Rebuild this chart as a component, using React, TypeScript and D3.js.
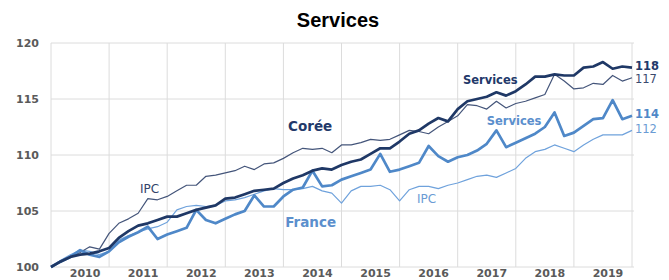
import React from 'react';
import * as d3 from 'd3';

// bi-monthly points, Jan 2010 .. Jan 2020 (index / 6 = years since 2010)
const stepsPerYear = 6;
const years = [2010, 2011, 2012, 2013, 2014, 2015, 2016, 2017, 2018, 2019];
const yTicks = [100, 105, 110, 115, 120];

const coreeServices = [
  100.0, 100.5, 100.9, 101.1, 101.2, 101.4, 101.7, 102.6, 103.2, 103.7,
  103.9, 104.2, 104.5, 104.5, 104.8, 105.1, 105.3, 105.5, 106.1, 106.2,
  106.5, 106.8, 106.9, 107.0, 107.5, 107.9, 108.2, 108.6, 108.8, 108.7,
  109.1, 109.4, 109.6, 110.1, 110.6, 110.6, 111.2, 111.9, 112.2, 112.8,
  113.3, 113.0, 114.1, 114.8, 115.0, 115.2, 115.6, 115.3, 115.7, 116.3,
  117.0, 117.0, 117.2, 117.1, 117.1, 117.8, 117.9, 118.3, 117.7, 117.9,
  117.8,
];
const coreeIPC = [
  100.0, 100.4, 100.9, 101.3, 101.8, 101.6, 103.0, 103.9, 104.3, 104.8,
  106.1, 106.0, 106.3, 106.8, 107.3, 107.3, 108.1, 108.2, 108.4, 108.6,
  109.0, 108.7, 109.2, 109.3, 109.7, 110.2, 110.6, 110.5, 110.6, 110.2,
  110.9, 110.9, 111.1, 111.4, 111.3, 111.4, 111.8, 112.2, 112.1, 111.9,
  112.5, 113.0, 113.5, 114.5, 114.4, 114.1, 114.8, 114.2, 114.6, 114.8,
  115.1, 115.4, 117.2, 116.6, 115.9, 116.0, 116.4, 116.3, 117.1, 116.6,
  116.9,
];
const franceServices = [
  100.0, 100.5, 100.9, 101.5, 101.1, 100.9, 101.4, 102.2, 102.7, 103.1,
  103.6, 102.5, 102.9, 103.2, 103.5, 105.1, 104.2, 103.9, 104.3, 104.7,
  105.0, 106.4, 105.4, 105.4, 106.3, 106.9, 107.1, 108.6, 107.2, 107.3,
  107.8, 108.1, 108.4, 108.7, 110.1, 108.5, 108.7, 109.0, 109.3, 110.8,
  109.9, 109.4, 109.8, 110.0, 110.4, 111.0, 112.2, 110.7, 111.1, 111.5,
  111.9, 112.5, 113.8, 111.7, 112.0, 112.6, 113.2, 113.3, 114.9, 113.2,
  113.5,
];
const franceIPC = [
  100.0, 100.6, 101.1, 101.5, 101.4, 101.1, 101.4, 102.4, 102.8, 103.1,
  103.4, 103.6, 104.0, 105.1, 105.4, 105.5, 105.4, 105.5, 105.9, 106.0,
  106.2, 106.5, 106.8, 107.0, 106.9, 106.9, 107.0, 107.2, 106.8, 106.6,
  105.7, 106.8, 107.2, 107.2, 107.3, 106.9, 105.9, 106.9, 107.2, 107.2,
  107.0, 107.3, 107.5, 107.8, 108.1, 108.2, 108.0, 108.4, 108.8, 109.7,
  110.3, 110.5, 110.9, 110.6, 110.3, 110.9, 111.4, 111.8, 111.8, 111.8,
  112.2,
];

// series styles
const series = [
  { values: franceIPC, color: '#6fa2dc', width: 1.2 },
  { values: coreeIPC, color: '#44557a', width: 1.2 },
  { values: franceServices, color: '#4f88c8', width: 2.7 },
  { values: coreeServices, color: '#1f3866', width: 2.7 },
];

// annotations in data units: t = years since 2010, v = index
const labels = [
  { text: 'Corée', t: 4.08, v: 112.14, size: 13.5, bold: true, color: '#22396a' },
  { text: 'IPC', t: 1.53, v: 106.6, size: 12, bold: false, color: '#33436a' },
  { text: 'France', t: 4.03, v: 103.57, size: 13.5, bold: true, color: '#5b8fcd' },
  { text: 'IPC', t: 6.3, v: 105.71, size: 12, bold: false, color: '#6a9bd4' },
  { text: 'Services', t: 7.09, v: 116.34, size: 11.5, bold: true, color: '#22396a' },
  { text: 'Services', t: 7.5, v: 112.68, size: 11.5, bold: true, color: '#5b8fcd' },
  { text: '118', t: 10.05, v: 117.59, size: 11.5, bold: true, color: '#22396a' },
  { text: '117', t: 10.05, v: 116.43, size: 11.5, bold: false, color: '#3a4a6e' },
  { text: '114', t: 10.05, v: 113.3, size: 11.5, bold: true, color: '#4f88c8' },
  { text: '112', t: 10.05, v: 111.96, size: 11.5, bold: false, color: '#6a9bd4' },
];

const W = 669;
const H = 280;
const margin = { top: 43, right: 37, bottom: 13, left: 51 };

export default function App() {
  const x = d3.scaleLinear().domain([0, years.length]).range([margin.left, W - margin.right]);
  const y = d3.scaleLinear().domain([100, 120]).range([H - margin.bottom, margin.top]);

  const line = d3
    .line<number>()
    .x((_, i) => x(i / stepsPerYear))
    .y((d) => y(d));

  const font = "'DejaVu Sans', Verdana, sans-serif";

  return (
    <svg
      width={W}
      height={H}
      style={{ position: 'absolute', left: 0, top: 0, background: '#fff' }}
    >
      <text
        x={338}
        y={27}
        textAnchor="middle"
        fontFamily="'Liberation Sans', Arial, sans-serif"
        fontWeight="bold"
        fontSize={20}
      >
        Services
      </text>

      {/* grid */}
      {yTicks.map((t) => (
        <line key={'h' + t} x1={x(0)} x2={x(years.length) + 2} y1={y(t)} y2={y(t)} stroke="#dcdcdc" strokeWidth={1} />
      ))}
      {d3.range(years.length + 1).map((i) => (
        <line key={'v' + i} x1={x(i)} x2={x(i)} y1={y(120)} y2={y(100)} stroke="#dcdcdc" strokeWidth={1} />
      ))}

      {/* y tick labels */}
      {yTicks.map((t) => (
        <text
          key={'yt' + t}
          x={39}
          y={y(t)}
          dy="0.36em"
          textAnchor="end"
          fontFamily={font}
          fontWeight="bold"
          fontSize={11}
          fill="#5a5a5a"
        >
          {t}
        </text>
      ))}

      {/* x tick labels */}
      {years.map((yr, i) => (
        <text
          key={'xt' + yr}
          x={x(i + 0.5) + 5}
          y={277}
          textAnchor="middle"
          fontFamily={font}
          fontWeight="bold"
          fontSize={11}
          fill="#5a5a5a"
        >
          {yr}
        </text>
      ))}

      {/* lines */}
      {series.map((s, i) => (
        <path
          key={'s' + i}
          d={line(s.values) || ''}
          fill="none"
          stroke={s.color}
          strokeWidth={s.width}
          strokeLinejoin="round"
        />
      ))}

      {/* annotations */}
      {labels.map((l, i) => (
        <text
          key={'l' + i}
          x={x(l.t)}
          y={y(l.v)}
          fontFamily={font}
          fontWeight={l.bold ? 'bold' : 'normal'}
          fontSize={l.size}
          fill={l.color}
        >
          {l.text}
        </text>
      ))}
    </svg>
  );
}
